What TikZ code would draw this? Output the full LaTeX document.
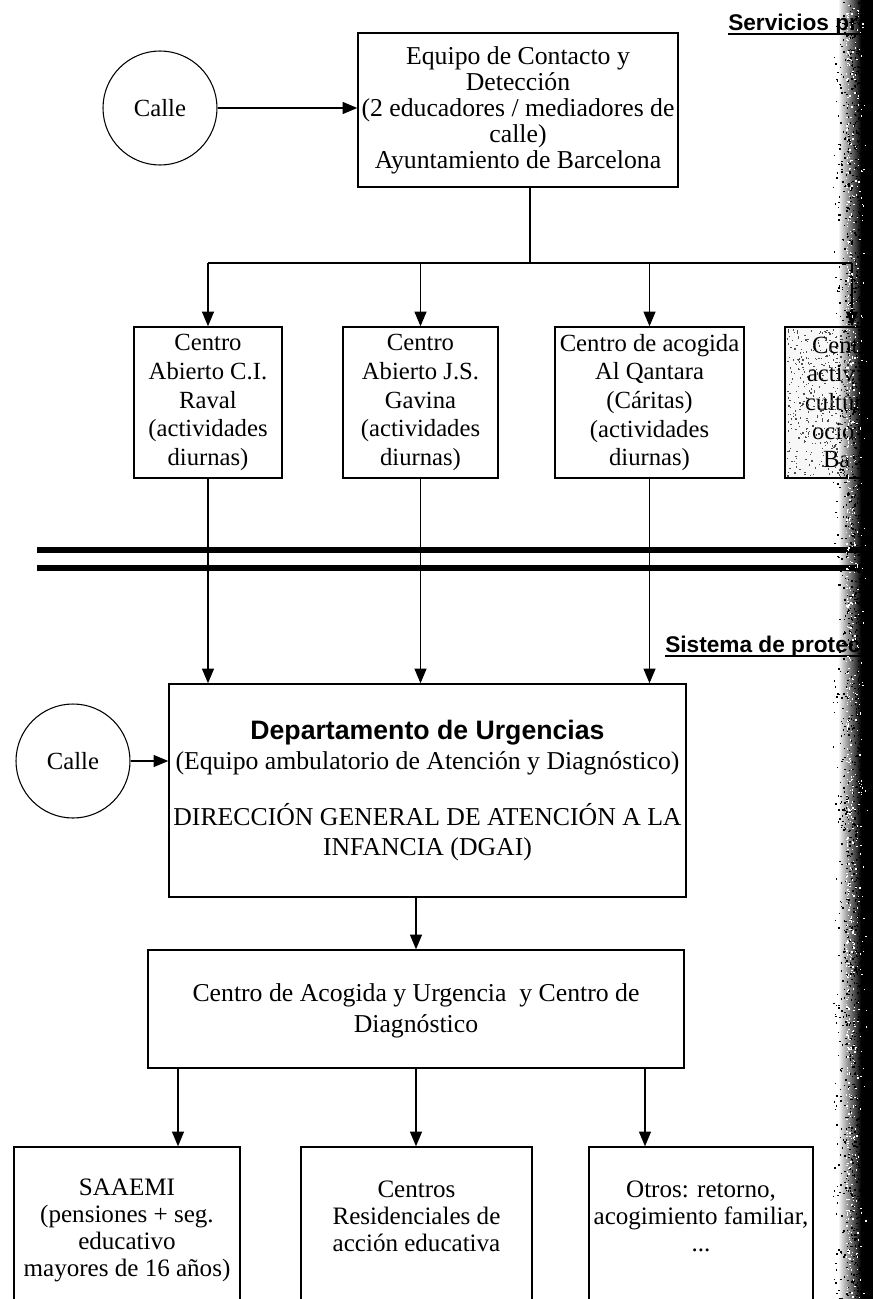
\documentclass[tikz,border=0pt]{standalone}
\usepackage{fontspec}
\setmainfont{Liberation Serif}
\setsansfont{Liberation Sans}
\usetikzlibrary{arrows.meta,calc,fadings}
\newdimen\pxu \pxu=0.75pt
\tikzfading[name=edgefade, left color=transparent!100, right color=transparent!0]

\begin{document}
\begin{tikzpicture}[x=0.75pt,y=-0.75pt,
  conn/.style={line width=0.9pt,black},
  arr/.style={conn,-{Triangle[length=11pt,width=9pt]}},
  box/.style={draw,line width=1.1pt,align=center,inner sep=0pt,
    font=\fontsize{18.5}{21.5}\selectfont},
  calle/.style={draw,circle,line width=0.8pt,minimum size=114\pxu,inner sep=0pt,
    font=\fontsize{18.5}{21.5}\selectfont},
  head/.style={font=\sffamily\bfseries\fontsize{17}{20}\selectfont,anchor=base west,inner sep=0pt},
  uline/.style={line width=1.6pt},
  sep/.style={line width=3.8pt}
]
\useasboundingbox (0,0) rectangle (873,1299);
\clip (0,0) rectangle (873,1299);
\fill[white] (0,0) rectangle (873,1299);

% ---------- upper block: services ----------
\node[head] (servhead) at (728,30) {Servicios pre};
\draw[uline] ([yshift=-3.2pt]servhead.base west) -- ([yshift=-3.2pt]servhead.base west -| 873,0);

\node[calle] (c1) at (160,108) {Calle};
\node[box,minimum width=320\pxu,minimum height=154\pxu,font=\fontsize{19.3}{19.5}\selectfont] (eq) at (518,110)
  {Equipo de Contacto y\\Detección\\(2 educadores / mediadores de\\calle)\\Ayuntamiento de Barcelona};
\draw[arr] (c1) -- (c1 -| eq.west);

\node[box,minimum width=148\pxu,minimum height=151\pxu] (b1) at (208,402.5)
  {Centro\\Abierto C.I.\\Raval\\(actividades\\diurnas)};
\node[box,minimum width=155\pxu,minimum height=151\pxu] (b2) at (420.5,402.5)
  {Centro\\Abierto J.S.\\Gavina\\(actividades\\diurnas)};
\node[box,minimum width=189\pxu,minimum height=151\pxu] (b3) at (649.5,402.5)
  {Centro de acogida\\Al Qantara\\(Cáritas)\\(actividades\\diurnas)};
\node[box,fill=gray!6,align=left,text width=114\pxu,inner xsep=10\pxu,minimum height=151\pxu] (b4) at (852,402.5)
  {\hspace*{17\pxu}Centr\\\hspace*{12\pxu}activ\\\hspace*{10\pxu}cultur\\\hspace*{17\pxu}ocio\\\hspace*{28\pxu}Ba};

% stipple inside the last box
\pgfmathsetseed{11}
\foreach \i in {1,...,380} {
  \pgfmathsetmacro\rx{787+62*rnd}
  \pgfmathsetmacro\ry{329+147*rnd}
  \fill[black!70] (\rx,\ry) rectangle ++(1.3,1.3);
}

\coordinate (split) at (530,263);
\draw[conn] (split |- eq.south) -- (split);
\draw[conn] (b1 |- split) -- (b4 |- split);
\foreach \b in {b1,b2,b3,b4} \draw[arr] (\b |- split) -- (\b.north);

% ---------- separator ----------
\coordinate (sepL1) at (37,550);
\coordinate (sepL2) at (37,568);
\draw[sep] (sepL1) -- (sepL1 -| 873,0);
\draw[sep] (sepL2) -- (sepL2 -| 873,0);

% ---------- lower block: protection system ----------
\node[head] (prothead) at (665,652) {Sistema de protec};
\draw[uline] ([yshift=-3.2pt]prothead.base west) -- ([yshift=-3.2pt]prothead.base west -| 873,0);

\node[calle] (c2) at (73,761) {Calle};
\node[box,minimum width=517\pxu,minimum height=213\pxu,font=\fontsize{19.3}{22.5}\selectfont] (dept) at (427.5,790.5)
  {{\sffamily\bfseries\fontsize{20}{22.5}\selectfont Departamento de Urgencias}\\
   (Equipo ambulatorio de Atención y Diagnóstico)\\[19.5pt]
   DIRECCIÓN GENERAL DE ATENCIÓN A LA\\
   INFANCIA (DGAI)};
\draw[arr] (c2) -- (c2 -| dept.west);
\foreach \b in {b1,b2,b3} \draw[arr] (\b.south) -- (\b |- dept.north);

\node[box,minimum width=536\pxu,minimum height=118\pxu,font=\fontsize{19.3}{23}\selectfont] (ca) at (416,1009)
  {\rule{0pt}{16pt}Centro de Acogida y Urgencia \ y Centro de\\Diagnóstico};
\draw[arr] (ca |- dept.south) -- (ca.north);

\node[box,minimum width=226\pxu,minimum height=166\pxu,font=\fontsize{18.8}{20.2}\selectfont] (sa) at (127,1230)
  {SAAEMI\\(pensiones + seg.\\educativo\\mayores de 16 años)};
\node[box,minimum width=231\pxu,minimum height=166\pxu,font=\fontsize{18.8}{20.2}\selectfont] (cr) at (416.5,1230)
  {Centros\\Residenciales de\\acción educativa\\\mbox{}};
\node[box,minimum width=224\pxu,minimum height=166\pxu,font=\fontsize{18.8}{20.2}\selectfont] (ot) at (701,1230)
  {Otros: retorno,\\acogimiento familiar,\\...\\\mbox{}};

\coordinate (kA) at (178,1068);
\coordinate (kB) at (416,1068);
\coordinate (kC) at (645,1068);
\draw[arr] (kA) -- (kA |- sa.north);
\draw[arr] (kB) -- (kB |- cr.north);
\draw[arr] (kC) -- (kC |- ot.north);

% ---------- dark binding edge along the right margin ----------
\fill[black,path fading=edgefade] (838,0) rectangle (861,1299);
\fill[black] (861,0) rectangle (873,1299);
\pgfmathsetseed{5}
\foreach \i in {1,...,1900} {
  \pgfmathsetmacro\rx{832+32*rnd^0.5}
  \pgfmathsetmacro\ry{1299*rnd}
  \fill[black] (\rx,\ry) rectangle ++(1.5,1.5);
}
\foreach \i in {1,...,900} {
  \pgfmathsetmacro\rx{846+22*rnd*rnd}
  \pgfmathsetmacro\ry{1299*rnd}
  \fill[white] (\rx,\ry) rectangle ++(1.3,1.3);
}
\end{tikzpicture}
\end{document}
